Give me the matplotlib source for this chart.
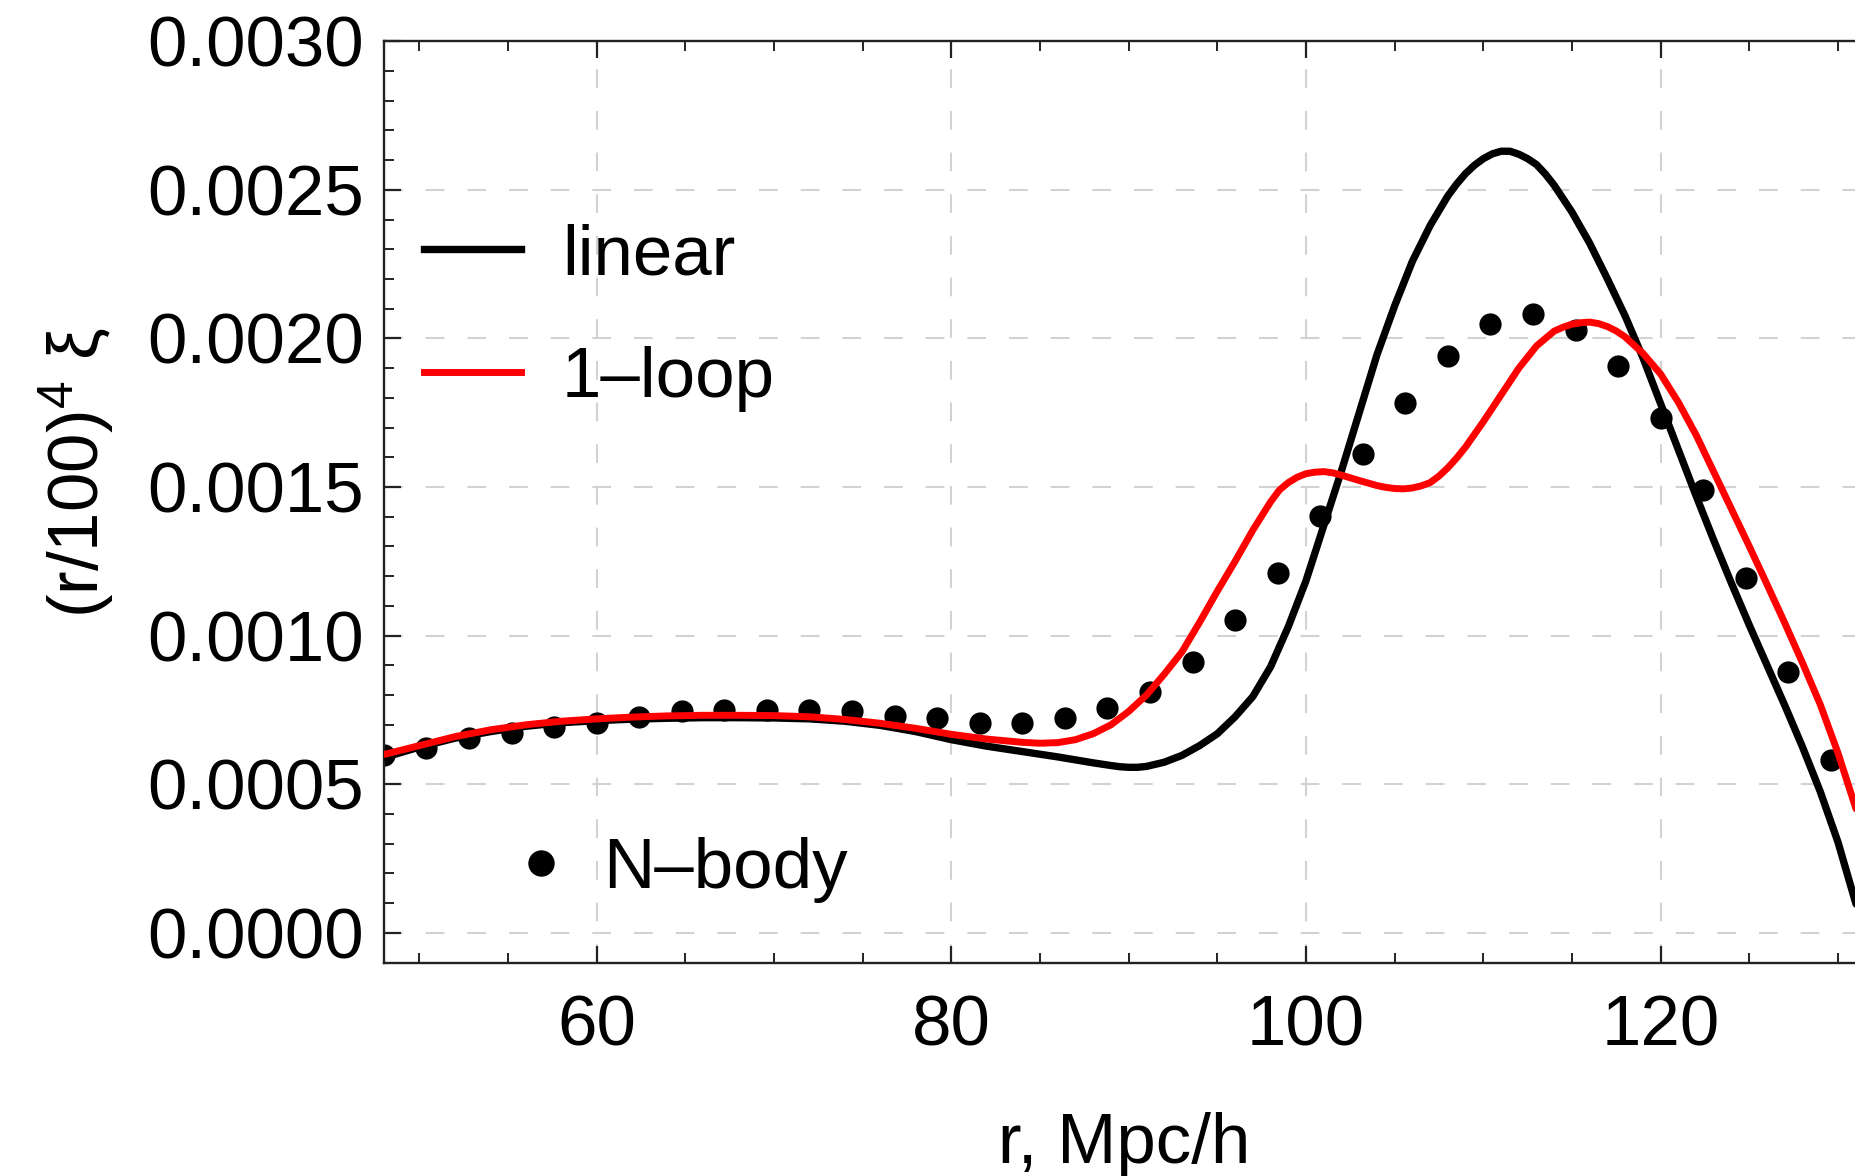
import matplotlib
matplotlib.use('Agg')
import matplotlib.pyplot as plt
from matplotlib.ticker import MultipleLocator, FuncFormatter
from matplotlib.lines import Line2D

plt.rcParams['font.family'] = ['Liberation Sans', 'DejaVu Sans']
plt.rcParams['mathtext.fontset'] = 'custom'
plt.rcParams['mathtext.rm'] = 'Liberation Sans'
plt.rcParams['mathtext.it'] = 'Liberation Sans:italic'

# ---- data ----
r_linear = [48, 50, 52, 54, 56, 58, 60, 62, 64, 66, 68, 70, 72, 74, 76, 78, 80,
            82, 84, 86, 88, 89, 89.5, 90, 90.5, 91, 92, 93, 94, 95, 96, 97, 98,
            99, 100, 101, 102, 103, 104, 105, 106, 107, 108, 108.5, 109, 109.5,
            110, 110.5, 111, 111.5, 112, 112.5, 113, 113.5, 114, 115, 116, 117,
            118, 119, 120, 121, 122, 123, 124, 125, 126, 127, 128, 129, 130,
            131, 132]
xi_linear = [0.000590, 0.000625, 0.000655, 0.000677, 0.000695, 0.000707, 0.000714,
             0.000719, 0.000722, 0.000724, 0.000724, 0.000723, 0.000720, 0.000712,
             0.000698, 0.000677, 0.000650, 0.000628, 0.000610, 0.000592, 0.000572,
             0.000563, 0.000559, 0.000557, 0.000557, 0.000560, 0.000574, 0.000597,
             0.000630, 0.000670, 0.000727, 0.000795, 0.000895, 0.001030, 0.001185,
             0.001370, 0.001555, 0.001750, 0.001945, 0.002110, 0.002260, 0.002380,
             0.002480, 0.002520, 0.002555, 0.002583, 0.002605, 0.002621, 0.002630,
             0.002630, 0.002620, 0.002605, 0.002585, 0.002553, 0.002515, 0.002425,
             0.002320, 0.002200, 0.002075, 0.001935, 0.001780, 0.001625, 0.001470,
             0.001320, 0.001175, 0.001035, 0.000900, 0.000765, 0.000625, 0.000475,
             0.000305, 0.000100, -0.000100]

r_loop = [48, 50, 52, 54, 56, 58, 60, 62, 64, 66, 68, 70, 72, 74, 76, 78, 80,
          82, 84, 85, 86, 87, 88, 89, 90, 91, 92, 93, 94, 95, 96, 97, 98, 98.5,
          99, 99.5, 100, 100.5, 101, 101.5, 102, 103, 104, 104.5, 105, 105.5,
          106, 106.5, 107, 107.5, 108, 108.5, 109, 110, 111, 112, 113, 114,
          114.5, 115, 115.5, 116, 116.5, 117, 117.5, 118, 119, 120, 121, 122,
          123, 124, 125, 126, 127, 128, 129, 130, 131, 132]
xi_loop = [0.000600, 0.000630, 0.000660, 0.000683, 0.000700, 0.000712, 0.000720,
           0.000726, 0.000730, 0.000732, 0.000732, 0.000731, 0.000727, 0.000718,
           0.000705, 0.000688, 0.000668, 0.000652, 0.000641, 0.000638, 0.000640,
           0.000650, 0.000670, 0.000700, 0.000745, 0.000800, 0.000870, 0.000945,
           0.001045, 0.001150, 0.001250, 0.001355, 0.001450, 0.001490, 0.001515,
           0.001533, 0.001545, 0.001550, 0.001552, 0.001548, 0.001540, 0.001522,
           0.001505, 0.001499, 0.001495, 0.001494, 0.001497, 0.001504, 0.001515,
           0.001537, 0.001565, 0.001598, 0.001635, 0.001720, 0.001810, 0.001900,
           0.001975, 0.002025, 0.002038, 0.002048, 0.002053, 0.002055, 0.002050,
           0.002040, 0.002025, 0.002005, 0.001950, 0.001880, 0.001785, 0.001675,
           0.001550, 0.001425, 0.001300, 0.001172, 0.001042, 0.000908, 0.000768,
           0.000605, 0.000420, 0.000230]

r_nbody = [48.0, 50.4, 52.8, 55.2, 57.6, 60.0, 62.4, 64.8, 67.2, 69.6, 72.0, 74.4,
           76.8, 79.2, 81.6, 84.0, 86.4, 88.8, 91.2, 93.6, 96.0, 98.4, 100.8,
           103.2, 105.6, 108.0, 110.4, 112.8, 115.2, 117.6, 120.0, 122.4, 124.8,
           127.2, 129.6]
xi_nbody = [0.000599, 0.000621, 0.000655, 0.000672, 0.000692, 0.000705, 0.000725,
            0.000748, 0.000750, 0.000750, 0.000750, 0.000748, 0.000730, 0.000722,
            0.000707, 0.000707, 0.000722, 0.000758, 0.000810, 0.000913, 0.001053,
            0.001212, 0.001404, 0.001610, 0.001784, 0.001942, 0.002049, 0.002082,
            0.002029, 0.001908, 0.001732, 0.001490, 0.001193, 0.000879, 0.000582]

legend_labels = ['linear', '1\u2013loop', 'N\u2013body']
x_label = 'r, Mpc/h'
y_label = '(r/100)$^{4}$ \u03be'

FS = 51
W, H = 1856, 1176
XMIN, XMAX = 48, 138
PX_PER_UNIT = 17.733

fig = plt.figure(figsize=(W / 100, H / 100), dpi=100)
fig.patch.set_facecolor('white')
ax = fig.add_axes([383.9 / W, 0.1815, (XMAX - XMIN) * PX_PER_UNIT / W, 0.7834])
ax.set_xlim(XMIN, XMAX)
ax.set_ylim(-0.0001, 0.003)

ax.plot(r_nbody, xi_nbody, 'o', color='black', ms=16, mew=0, zorder=2)
ax.plot(r_linear, xi_linear, color='black', lw=5.3, zorder=3,
        solid_joinstyle='round', solid_capstyle='round')
ax.plot(r_loop, xi_loop, color='red', lw=5.0, zorder=4,
        solid_joinstyle='round', solid_capstyle='round')

ax.xaxis.set_major_locator(MultipleLocator(20))
ax.xaxis.set_minor_locator(MultipleLocator(5))
ax.yaxis.set_major_locator(MultipleLocator(0.0005))
ax.yaxis.set_minor_locator(MultipleLocator(0.0001))
ax.yaxis.set_major_formatter(FuncFormatter(lambda v, p: f'{v:.4f}'))

spine_col = '#222222'
for s in ax.spines.values():
    s.set_linewidth(1.7)
    s.set_color(spine_col)
ax.tick_params(which='both', direction='in', top=True, right=True,
               color=spine_col, labelsize=FS, labelcolor='black')
ax.tick_params(which='major', length=12.5, width=1.6)
ax.tick_params(which='minor', length=7.5, width=1.4)
ax.tick_params(axis='x', pad=23)
ax.tick_params(axis='y', pad=14.5)

ax.set_axisbelow(True)
ax.grid(True, which='major', color='#d2d2d2', lw=1.5, linestyle=(0, (9, 11)))

h1 = Line2D([], [], color='black', lw=5.3)
h2 = Line2D([], [], color='red', lw=5.0)
leg1 = ax.legend([h1, h2], legend_labels[:2], loc='center left',
                 bbox_to_anchor=(423.8 / W, 1 - 317.5 / H),
                 bbox_transform=fig.transFigure, frameon=False, fontsize=FS,
                 handlelength=1.37, handletextpad=0.58, labelspacing=0.80,
                 borderpad=0, borderaxespad=0)
ax.add_artist(leg1)
h3 = Line2D([], [], color='black', marker='o', ls='none', ms=19, mew=0)
ax.legend([h3], legend_labels[2:], loc='center left',
          bbox_to_anchor=(519.8 / W, 1 - 870 / H),
          bbox_transform=fig.transFigure, frameon=False, fontsize=FS,
          handlelength=0.6, handletextpad=0.58, numpoints=1,
          borderpad=0, borderaxespad=0)

fig.text(77 / W, 1 - 473 / H, y_label, rotation=90, ha='center', va='center',
         fontsize=FS)
fig.text(1124.5 / W, 1 - 1163 / H, x_label, ha='center', va='baseline',
         fontsize=FS)

fig.savefig('out.png', dpi=100, facecolor='white')
